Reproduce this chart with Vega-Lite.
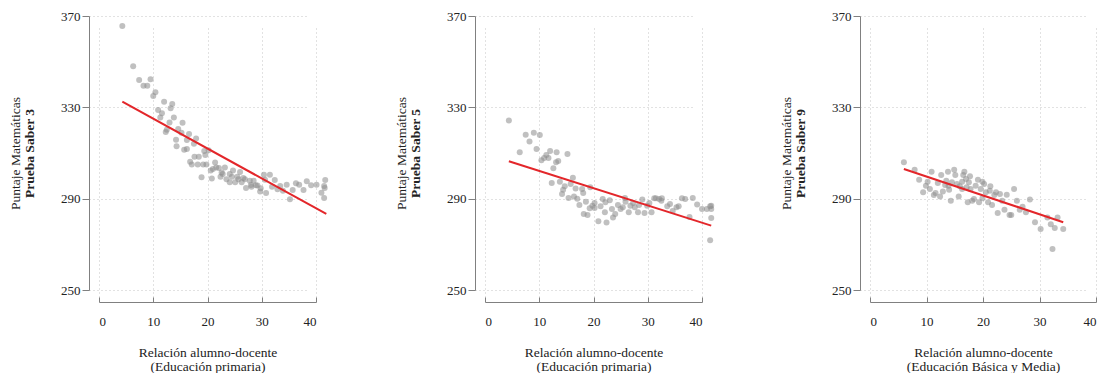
{
  "$schema": "https://vega.github.io/schema/vega-lite/v6.json",
  "padding": {"left": 8, "top": 10, "right": 0, "bottom": 0},
  "spacing": 63,
  "datasets": {
    "s3": [
      {"ratio": 4.3, "puntaje": 365.6}, {"ratio": 6.3, "puntaje": 348}, {"ratio": 7.4, "puntaje": 342}, {"ratio": 8.2, "puntaje": 339.5},
      {"ratio": 8.9, "puntaje": 339.5}, {"ratio": 9.5, "puntaje": 342.3}, {"ratio": 10.0, "puntaje": 335}, {"ratio": 10.4, "puntaje": 336.6},
      {"ratio": 12.0, "puntaje": 332.5}, {"ratio": 13.2, "puntaje": 329.6}, {"ratio": 13.5, "puntaje": 331.5}, {"ratio": 10.9, "puntaje": 328.8},
      {"ratio": 11.6, "puntaje": 327.4}, {"ratio": 11.3, "puntaje": 325.6}, {"ratio": 13.8, "puntaje": 325.6}, {"ratio": 13.0, "puntaje": 323.4},
      {"ratio": 12.5, "puntaje": 320.2}, {"ratio": 12.3, "puntaje": 319.2}, {"ratio": 15.4, "puntaje": 323.3}, {"ratio": 14.6, "puntaje": 320.5},
      {"ratio": 15.2, "puntaje": 318.9}, {"ratio": 14.2, "puntaje": 315.8}, {"ratio": 14.3, "puntaje": 313}, {"ratio": 16.6, "puntaje": 318.3},
      {"ratio": 16.2, "puntaje": 315.7}, {"ratio": 17.9, "puntaje": 316.4}, {"ratio": 17.5, "puntaje": 314.1}, {"ratio": 15.7, "puntaje": 311.4},
      {"ratio": 16.2, "puntaje": 311.8}, {"ratio": 19.4, "puntaje": 310.9}, {"ratio": 20.2, "puntaje": 311.2}, {"ratio": 17.6, "puntaje": 308.4},
      {"ratio": 18.4, "puntaje": 308.4}, {"ratio": 19.6, "puntaje": 309.1}, {"ratio": 16.8, "puntaje": 306.2}, {"ratio": 17.1, "puntaje": 305},
      {"ratio": 18.2, "puntaje": 305}, {"ratio": 19.2, "puntaje": 305}, {"ratio": 19.8, "puntaje": 305}, {"ratio": 18.9, "puntaje": 299.4},
      {"ratio": 20.8, "puntaje": 298.8}, {"ratio": 21.4, "puntaje": 305.8}, {"ratio": 20.6, "puntaje": 302.3}, {"ratio": 21.6, "puntaje": 303.7},
      {"ratio": 22.1, "puntaje": 303.4}, {"ratio": 22.4, "puntaje": 299.6}, {"ratio": 23.2, "puntaje": 303.7}, {"ratio": 22.8, "puntaje": 300.8},
      {"ratio": 23.5, "puntaje": 298.5}, {"ratio": 24.1, "puntaje": 300.8}, {"ratio": 24.7, "puntaje": 302.3}, {"ratio": 24.5, "puntaje": 299.6},
      {"ratio": 25.1, "puntaje": 297.2}, {"ratio": 24.1, "puntaje": 297.2}, {"ratio": 26.0, "puntaje": 301.7}, {"ratio": 25.7, "puntaje": 298.5},
      {"ratio": 26.3, "puntaje": 297.2}, {"ratio": 26.9, "puntaje": 298.5}, {"ratio": 27.1, "puntaje": 294.7}, {"ratio": 27.8, "puntaje": 297.9},
      {"ratio": 28.1, "puntaje": 295.2}, {"ratio": 28.5, "puntaje": 297.9}, {"ratio": 28.9, "puntaje": 295.9}, {"ratio": 29.7, "puntaje": 293.1},
      {"ratio": 30.8, "puntaje": 292.5}, {"ratio": 30.4, "puntaje": 300.5}, {"ratio": 31.5, "puntaje": 300.5}, {"ratio": 30.6, "puntaje": 298.3},
      {"ratio": 32.4, "puntaje": 298.2}, {"ratio": 31.9, "puntaje": 295.2}, {"ratio": 32.9, "puntaje": 294.1}, {"ratio": 33.4, "puntaje": 295.5},
      {"ratio": 33.9, "puntaje": 293.5}, {"ratio": 34.6, "puntaje": 296.1}, {"ratio": 35.2, "puntaje": 289.7}, {"ratio": 35.7, "puntaje": 293.8},
      {"ratio": 36.3, "puntaje": 296.7}, {"ratio": 36.9, "puntaje": 296.1}, {"ratio": 37.7, "puntaje": 293.8}, {"ratio": 38.3, "puntaje": 297.6},
      {"ratio": 39.1, "puntaje": 295.9}, {"ratio": 40.1, "puntaje": 296.1}, {"ratio": 41.0, "puntaje": 292.6}, {"ratio": 41.5, "puntaje": 295.5},
      {"ratio": 41.7, "puntaje": 298.2}, {"ratio": 41.6, "puntaje": 294.7}, {"ratio": 41.5, "puntaje": 290.3}, {"ratio": 21.0, "puntaje": 303.0},
      {"ratio": 22.6, "puntaje": 301.5}, {"ratio": 25.5, "puntaje": 299.6}, {"ratio": 26.6, "puntaje": 299.0}, {"ratio": 28.0, "puntaje": 296.0},
      {"ratio": 29.8, "puntaje": 294.6}, {"ratio": 29.2, "puntaje": 295.8}
    ],
    "s3fit": [{"ratio": 4.3, "puntaje": 332.5}, {"ratio": 41.9, "puntaje": 283.3}],
    "s5": [
      {"ratio": 4.4, "puntaje": 324.2}, {"ratio": 6.4, "puntaje": 310.3}, {"ratio": 7.5, "puntaje": 318}, {"ratio": 8.2, "puntaje": 315},
      {"ratio": 9.0, "puntaje": 318.9}, {"ratio": 10.1, "puntaje": 317.9}, {"ratio": 9.5, "puntaje": 311.8}, {"ratio": 10.4, "puntaje": 306.8},
      {"ratio": 10.9, "puntaje": 307.8}, {"ratio": 11.3, "puntaje": 309.1}, {"ratio": 11.7, "puntaje": 307.8}, {"ratio": 12.0, "puntaje": 310.9},
      {"ratio": 13.2, "puntaje": 310.3}, {"ratio": 13.1, "puntaje": 305.9}, {"ratio": 13.5, "puntaje": 306.5}, {"ratio": 12.6, "puntaje": 303.3},
      {"ratio": 15.2, "puntaje": 309.6}, {"ratio": 12.3, "puntaje": 296.9}, {"ratio": 13.8, "puntaje": 297.4}, {"ratio": 14.7, "puntaje": 295.4},
      {"ratio": 14.4, "puntaje": 293.9}, {"ratio": 14.2, "puntaje": 292}, {"ratio": 15.8, "puntaje": 296.4}, {"ratio": 16.2, "puntaje": 299.2},
      {"ratio": 16.7, "puntaje": 294.5}, {"ratio": 15.4, "puntaje": 290.3}, {"ratio": 16.4, "puntaje": 291}, {"ratio": 17.0, "puntaje": 290},
      {"ratio": 17.9, "puntaje": 294.2}, {"ratio": 17.4, "puntaje": 287.2}, {"ratio": 18.1, "puntaje": 292.5}, {"ratio": 18.6, "puntaje": 288.7},
      {"ratio": 18.2, "puntaje": 283.3}, {"ratio": 18.9, "puntaje": 282.9}, {"ratio": 19.4, "puntaje": 295}, {"ratio": 19.3, "puntaje": 285.8},
      {"ratio": 19.8, "puntaje": 286.9}, {"ratio": 20.2, "puntaje": 288.1}, {"ratio": 20.2, "puntaje": 285.9}, {"ratio": 20.9, "puntaje": 280.1},
      {"ratio": 21.3, "puntaje": 286.7}, {"ratio": 21.7, "puntaje": 289.9}, {"ratio": 22.2, "puntaje": 288.4}, {"ratio": 22.1, "puntaje": 284},
      {"ratio": 22.4, "puntaje": 279.6}, {"ratio": 23.0, "puntaje": 289.3}, {"ratio": 23.4, "puntaje": 285.5}, {"ratio": 23.6, "puntaje": 281.8},
      {"ratio": 24.0, "puntaje": 283.3}, {"ratio": 24.5, "puntaje": 287.2}, {"ratio": 25.0, "puntaje": 285.5}, {"ratio": 25.4, "puntaje": 286.2},
      {"ratio": 25.8, "puntaje": 290.3}, {"ratio": 25.9, "puntaje": 288.7}, {"ratio": 26.5, "puntaje": 284}, {"ratio": 26.8, "puntaje": 286.9},
      {"ratio": 27.3, "puntaje": 288.1}, {"ratio": 27.6, "puntaje": 286.2}, {"ratio": 28.2, "puntaje": 284}, {"ratio": 28.4, "puntaje": 287.2},
      {"ratio": 29.0, "puntaje": 289.6}, {"ratio": 29.4, "puntaje": 283.7}, {"ratio": 29.9, "puntaje": 286.9}, {"ratio": 30.3, "puntaje": 288.1},
      {"ratio": 30.7, "puntaje": 284}, {"ratio": 31.2, "puntaje": 290.2}, {"ratio": 31.5, "puntaje": 290.2}, {"ratio": 32.1, "puntaje": 289.9},
      {"ratio": 32.6, "puntaje": 290.2}, {"ratio": 32.5, "puntaje": 289.1}, {"ratio": 33.6, "puntaje": 286.7}, {"ratio": 34.1, "puntaje": 287.7},
      {"ratio": 34.6, "puntaje": 284.6}, {"ratio": 35.3, "puntaje": 286.2}, {"ratio": 35.7, "puntaje": 286.7}, {"ratio": 36.3, "puntaje": 290.2},
      {"ratio": 36.9, "puntaje": 289.9}, {"ratio": 37.7, "puntaje": 282}, {"ratio": 38.3, "puntaje": 290.3}, {"ratio": 39.1, "puntaje": 287.4},
      {"ratio": 40.0, "puntaje": 285.5}, {"ratio": 40.9, "puntaje": 285.5}, {"ratio": 41.5, "puntaje": 286.7}, {"ratio": 41.7, "puntaje": 285.5},
      {"ratio": 41.7, "puntaje": 281.5}, {"ratio": 41.5, "puntaje": 271.8}, {"ratio": 41.7, "puntaje": 286.9}
    ],
    "s5fit": [{"ratio": 4.4, "puntaje": 306.4}, {"ratio": 41.7, "puntaje": 278.2}],
    "s9": [
      {"ratio": 6.0, "puntaje": 305.9}, {"ratio": 7.9, "puntaje": 302.7}, {"ratio": 8.7, "puntaje": 298.3}, {"ratio": 9.4, "puntaje": 292.8},
      {"ratio": 9.9, "puntaje": 295.7}, {"ratio": 10.2, "puntaje": 297.4}, {"ratio": 10.6, "puntaje": 294.2}, {"ratio": 10.9, "puntaje": 301.8},
      {"ratio": 11.3, "puntaje": 291.6}, {"ratio": 11.6, "puntaje": 292.5}, {"ratio": 12.0, "puntaje": 296.9}, {"ratio": 12.4, "puntaje": 291},
      {"ratio": 12.6, "puntaje": 300.4}, {"ratio": 12.9, "puntaje": 293.1}, {"ratio": 13.3, "puntaje": 296}, {"ratio": 13.5, "puntaje": 297.9},
      {"ratio": 13.8, "puntaje": 301.8}, {"ratio": 14.0, "puntaje": 293.9}, {"ratio": 14.3, "puntaje": 289.1}, {"ratio": 14.5, "puntaje": 297.2},
      {"ratio": 14.9, "puntaje": 302.7}, {"ratio": 15.1, "puntaje": 300.4}, {"ratio": 15.4, "puntaje": 296.4}, {"ratio": 15.7, "puntaje": 291},
      {"ratio": 15.9, "puntaje": 295.4}, {"ratio": 16.3, "puntaje": 297.4}, {"ratio": 16.5, "puntaje": 300.4}, {"ratio": 16.7, "puntaje": 301.8},
      {"ratio": 17.0, "puntaje": 298.6}, {"ratio": 17.1, "puntaje": 295}, {"ratio": 17.3, "puntaje": 288.4}, {"ratio": 17.5, "puntaje": 297.2},
      {"ratio": 17.8, "puntaje": 294.2}, {"ratio": 18.1, "puntaje": 289.1}, {"ratio": 18.4, "puntaje": 289.9}, {"ratio": 18.7, "puntaje": 295.7},
      {"ratio": 19.1, "puntaje": 298.3}, {"ratio": 19.3, "puntaje": 288.4}, {"ratio": 19.6, "puntaje": 294.2}, {"ratio": 19.9, "puntaje": 290.2},
      {"ratio": 20.2, "puntaje": 296.4}, {"ratio": 20.5, "puntaje": 292.8}, {"ratio": 20.9, "puntaje": 288.4}, {"ratio": 21.3, "puntaje": 295.4},
      {"ratio": 21.6, "puntaje": 287.2}, {"ratio": 22.0, "puntaje": 291.6}, {"ratio": 22.3, "puntaje": 292.8}, {"ratio": 22.6, "puntaje": 283.7},
      {"ratio": 23.0, "puntaje": 292}, {"ratio": 23.4, "puntaje": 289.1}, {"ratio": 23.8, "puntaje": 285.2}, {"ratio": 24.2, "puntaje": 291.7},
      {"ratio": 24.7, "puntaje": 282.9}, {"ratio": 25.0, "puntaje": 282.9}, {"ratio": 25.5, "puntaje": 294.2}, {"ratio": 26.0, "puntaje": 289.1},
      {"ratio": 26.5, "puntaje": 285.2}, {"ratio": 27.0, "puntaje": 286.5}, {"ratio": 27.6, "puntaje": 284}, {"ratio": 28.3, "puntaje": 289.6},
      {"ratio": 29.2, "puntaje": 279.7}, {"ratio": 30.2, "puntaje": 276.7}, {"ratio": 31.4, "puntaje": 281.8}, {"ratio": 32.0, "puntaje": 278.8},
      {"ratio": 32.3, "puntaje": 268}, {"ratio": 32.7, "puntaje": 277.2}, {"ratio": 33.2, "puntaje": 281.7}, {"ratio": 34.2, "puntaje": 276.7},
      {"ratio": 13.9, "puntaje": 295.7}, {"ratio": 16.3, "puntaje": 294.2}, {"ratio": 17.7, "puntaje": 299.8}, {"ratio": 19.9, "puntaje": 297.4},
      {"ratio": 21.2, "puntaje": 293.5}
    ],
    "s9fit": [{"ratio": 6.0, "puntaje": 303}, {"ratio": 34.2, "puntaje": 279.7}]
  },
  "hconcat": [
    {
      "width": 217, "height": 274,
      "encoding": {
        "x": {"field": "ratio", "type": "quantitative", "scale": {"domain": [0, 40], "nice": false},
              "axis": {"values": [0, 10, 20, 30, 40], "title": ["Relación alumno-docente", "(Educación primaria)"]}}
      },
      "layer": [
        {"data": {"name": "s3"}, "mark": {"type": "circle", "size": 36, "color": "#8c8c8c", "opacity": 0.55},
         "encoding": {"y": {"field": "puntaje", "type": "quantitative", "scale": {"domain": [250, 370], "nice": false, "zero": false},
           "axis": {"orient": "left", "values": [250, 290, 330, 370], "title": "Puntaje Matemáticas"}}}},
        {"data": {"name": "s3fit"}, "mark": {"type": "line", "color": "#e3262a", "strokeWidth": 2},
         "encoding": {"y": {"field": "puntaje", "type": "quantitative", "scale": {"domain": [250, 370], "nice": false, "zero": false},
           "axis": {"orient": "left", "title": "Prueba Saber 3", "labels": false, "ticks": false, "domain": false, "grid": false, "titleFontWeight": "bold", "titlePadding": 53}}}}
      ],
      "resolve": {"scale": {"y": "independent"}}
    },
    {
      "width": 217, "height": 274,
      "encoding": {
        "x": {"field": "ratio", "type": "quantitative", "scale": {"domain": [0, 40], "nice": false},
              "axis": {"values": [0, 10, 20, 30, 40], "title": ["Relación alumno-docente", "(Educación primaria)"]}}
      },
      "layer": [
        {"data": {"name": "s5"}, "mark": {"type": "circle", "size": 36, "color": "#8c8c8c", "opacity": 0.55},
         "encoding": {"y": {"field": "puntaje", "type": "quantitative", "scale": {"domain": [250, 370], "nice": false, "zero": false},
           "axis": {"orient": "left", "values": [250, 290, 330, 370], "title": "Puntaje Matemáticas"}}}},
        {"data": {"name": "s5fit"}, "mark": {"type": "line", "color": "#e3262a", "strokeWidth": 2},
         "encoding": {"y": {"field": "puntaje", "type": "quantitative", "scale": {"domain": [250, 370], "nice": false, "zero": false},
           "axis": {"orient": "left", "title": "Prueba Saber 5", "labels": false, "ticks": false, "domain": false, "grid": false, "titleFontWeight": "bold", "titlePadding": 53}}}}
      ],
      "resolve": {"scale": {"y": "independent"}}
    },
    {
      "width": 226, "height": 274,
      "encoding": {
        "x": {"field": "ratio", "type": "quantitative", "scale": {"domain": [0, 40], "nice": false},
              "axis": {"values": [0, 10, 20, 30, 40], "title": ["Relación alumno-docente", "(Educación Básica y Media)"]}}
      },
      "layer": [
        {"data": {"name": "s9"}, "mark": {"type": "circle", "size": 36, "color": "#8c8c8c", "opacity": 0.55},
         "encoding": {"y": {"field": "puntaje", "type": "quantitative", "scale": {"domain": [250, 370], "nice": false, "zero": false},
           "axis": {"orient": "left", "values": [250, 290, 330, 370], "title": "Puntaje Matemáticas"}}}},
        {"data": {"name": "s9fit"}, "mark": {"type": "line", "color": "#e3262a", "strokeWidth": 2},
         "encoding": {"y": {"field": "puntaje", "type": "quantitative", "scale": {"domain": [250, 370], "nice": false, "zero": false},
           "axis": {"orient": "left", "title": "Prueba Saber 9", "labels": false, "ticks": false, "domain": false, "grid": false, "titleFontWeight": "bold", "titlePadding": 53}}}}
      ],
      "resolve": {"scale": {"y": "independent"}}
    }
  ],
  "config": {
    "view": {"stroke": null},
    "font": "Liberation Serif",
    "axis": {
      "labelFont": "Liberation Serif", "titleFont": "Liberation Serif",
      "labelFontSize": 13, "titleFontSize": 13.5, "titleFontWeight": "normal",
      "labelColor": "#222222", "titleColor": "#222222",
      "domainColor": "#808080", "tickColor": "#808080",
      "gridColor": "#c4c4c4", "gridDash": [1, 3], "gridWidth": 1,
      "titleLineHeight": 14
    },
    "axisLeft": {"offset": 10, "tickSize": 7, "labelPadding": 2, "titlePadding": 38, "grid": true},
    "axisBottom": {"offset": 12, "tickSize": -5, "labelPadding": 18, "titlePadding": 17, "grid": true}
  }
}
